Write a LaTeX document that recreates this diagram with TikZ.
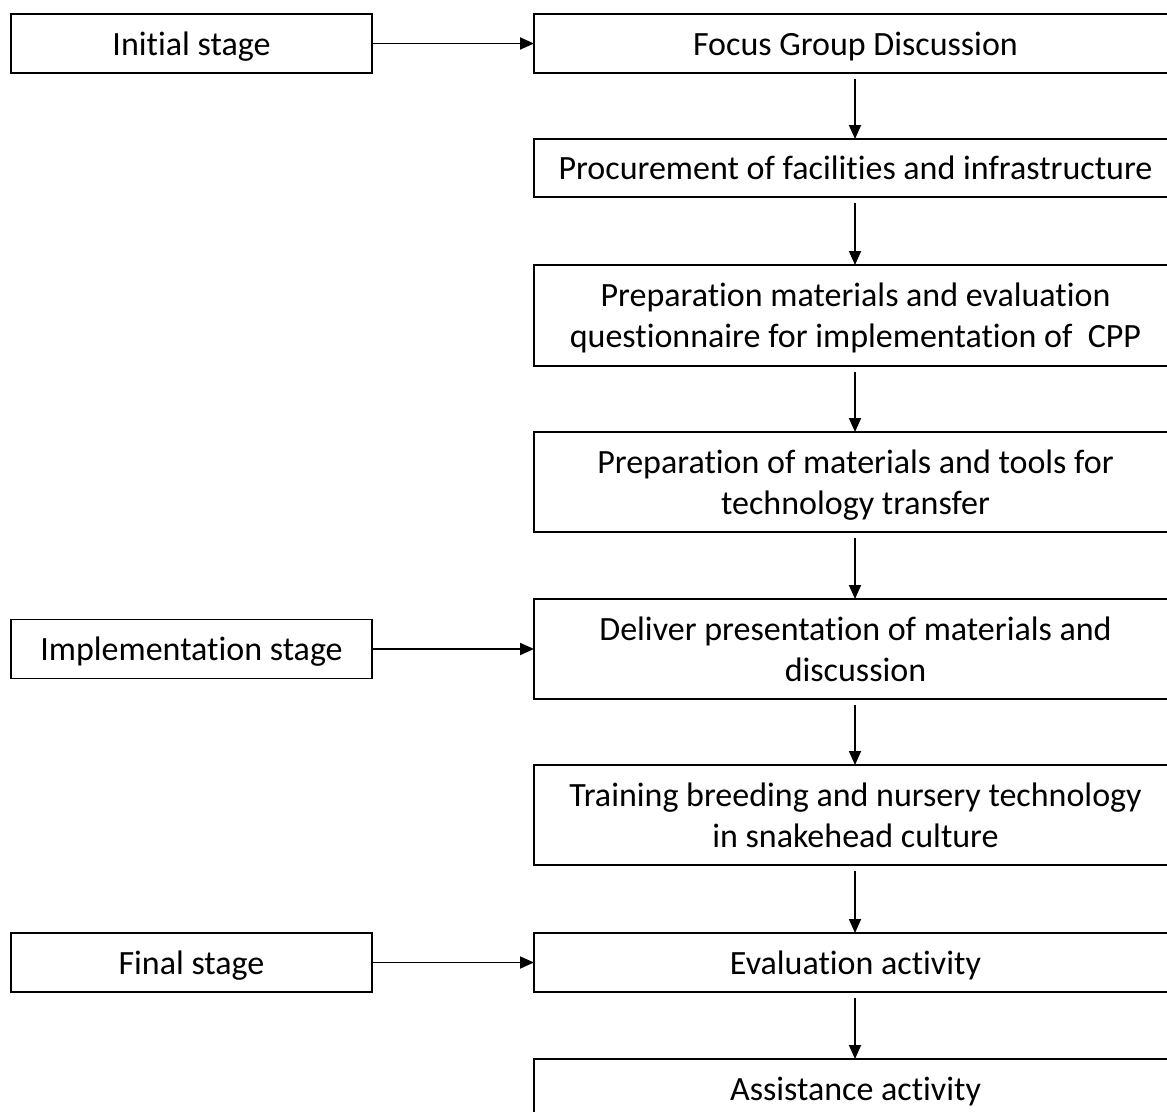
\documentclass[tikz,border=0pt]{standalone}
\usepackage{fontspec}
\setmainfont{Carlito}[Ligatures={NoCommon}]
\usetikzlibrary{arrows.meta}
\begin{document}
\begin{tikzpicture}[x=1pt,y=-1pt,
  box/.style={draw, line width=1.6pt, align=center, inner sep=0pt, outer sep=0pt,
    text depth=0pt, font=\fontsize{34}{41}\selectfont},
  lbox/.style={box, minimum width=361pt, minimum height=59pt},
  rbox/.style={box, minimum width=643pt},
  arr/.style={line width=1.8pt, -{Triangle[length=14pt,width=12pt]}}]
\useasboundingbox (0,0) rectangle (1167,1111);
\clip (0,0) rectangle (1167,1111);
\node[lbox] (init) at (191.5,43.5) {Initial stage};
\node[lbox] (impl) at (191.5,649) {Implementation stage};
\node[lbox] (fin) at (191.5,962.5) {Final stage};
\node[rbox, minimum height=59pt] (fgd) at (855.5,43.5) {Focus Group Discussion};
\node[rbox, minimum height=58pt] (proc) at (855.5,168) {Procurement of facilities and infrastructure};
\node[rbox, minimum height=101pt] (prep1) at (855.5,315.5) {Preparation materials and evaluation\\questionnaire for implementation of\ \ CPP};
\node[rbox, minimum height=100pt] (prep2) at (855.5,482) {Preparation of materials and tools for\\technology transfer};
\node[rbox, minimum height=100pt] (deliv) at (855.5,649) {Deliver presentation of materials and\\discussion};
\node[rbox, minimum height=100pt] (train) at (855.5,815) {Training breeding and nursery technology\\in snakehead culture};
\node[rbox, minimum height=59pt] (eval) at (855.5,962.5) {Evaluation activity};
\node[rbox, minimum height=59pt] (assist) at (855.5,1088.5) {Assistance activity};
\draw[arr] (init) -- (fgd);
\draw[arr] (impl) -- (deliv);
\draw[arr] (fin) -- (eval);
\foreach \a/\b in {fgd/proc, proc/prep1, prep1/prep2, prep2/deliv, deliv/train, train/eval, eval/assist}
  \draw[arr, shorten <=6pt] (\a.south -| 855,0) -- (\b.north -| 855,0);
\end{tikzpicture}
\end{document}
